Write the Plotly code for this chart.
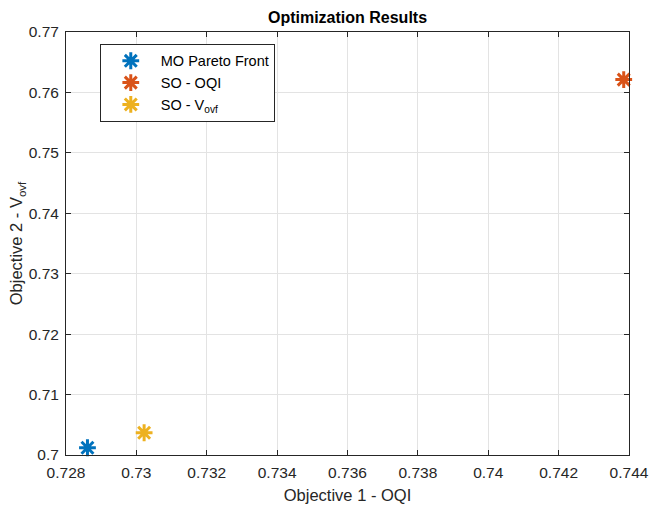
import plotly.graph_objects as go

# Objective values of each optimisation result
series_names = ["MO Pareto Front", "SO - OQI", "SO - V<sub>ovf</sub>"]
obj1_oqi = [0.72861, 0.74385, 0.73022]
obj2_vovf = [0.70120, 0.76212, 0.70368]
series_colors = ["#0072BD", "#D95319", "#EDB120"]

# Axis ticks
x_tickvals = [0.728, 0.730, 0.732, 0.734, 0.736, 0.738, 0.740, 0.742, 0.744]
x_ticktext = ["0.728", "0.73", "0.732", "0.734", "0.736", "0.738", "0.74", "0.742", "0.744"]
y_tickvals = [0.70, 0.71, 0.72, 0.73, 0.74, 0.75, 0.76, 0.77]
y_ticktext = ["0.7", "0.71", "0.72", "0.73", "0.74", "0.75", "0.76", "0.77"]

FONT = "Liberation Sans, Arial, Helvetica, sans-serif"
AXIS_COLOR = "#262626"

fig = go.Figure()
for name, x, y, c in zip(series_names, obj1_oqi, obj2_vovf, series_colors):
    fig.add_trace(go.Scatter(
        x=[x], y=[y], mode="markers", name=name,
        marker=dict(symbol="asterisk-open", size=14, color=c,
                    line=dict(color=c, width=3)),
        cliponaxis=False,
    ))

axis_common = dict(
    showline=True, linecolor=AXIS_COLOR, linewidth=1, mirror="ticks",
    ticks="inside", ticklen=5, tickcolor=AXIS_COLOR, tickwidth=1,
    showgrid=True, gridcolor="#e3e3e3", gridwidth=1, zeroline=False,
    tickfont=dict(family=FONT, size=15.5, color=AXIS_COLOR),
    ticklabelstandoff=3, automargin=False,
)

fig.update_layout(
    width=660, height=509,
    margin=dict(l=66, r=31, t=32, b=54),
    paper_bgcolor="white", plot_bgcolor="white",
    title=dict(text="<b>Optimization Results</b>", x=(66 + 629) / 2 / 660, xanchor="center",
               y=1 - 17 / 509, yanchor="middle",
               font=dict(family=FONT, size=16, color="#000000")),
    xaxis=dict(range=[0.728, 0.744], tickvals=x_tickvals, ticktext=x_ticktext,
               title=dict(text="Objective 1 - OQI", standoff=9,
                          font=dict(family=FONT, size=16.5, color=AXIS_COLOR)),
               **axis_common),
    yaxis=dict(range=[0.70, 0.77], tickvals=y_tickvals, ticktext=y_ticktext,
               title=dict(text="Objective 2 - V<sub>ovf</sub>", standoff=1,
                          font=dict(family=FONT, size=16.5, color=AXIS_COLOR)),
               **axis_common),
    legend=dict(x=0.06, y=0.972, xanchor="left", yanchor="top",
                bgcolor="white", bordercolor=AXIS_COLOR, borderwidth=1,
                font=dict(family=FONT, size=14.5, color="#000000"),
                itemwidth=50),
    showlegend=True,
)

fig.write_html("out.html")
